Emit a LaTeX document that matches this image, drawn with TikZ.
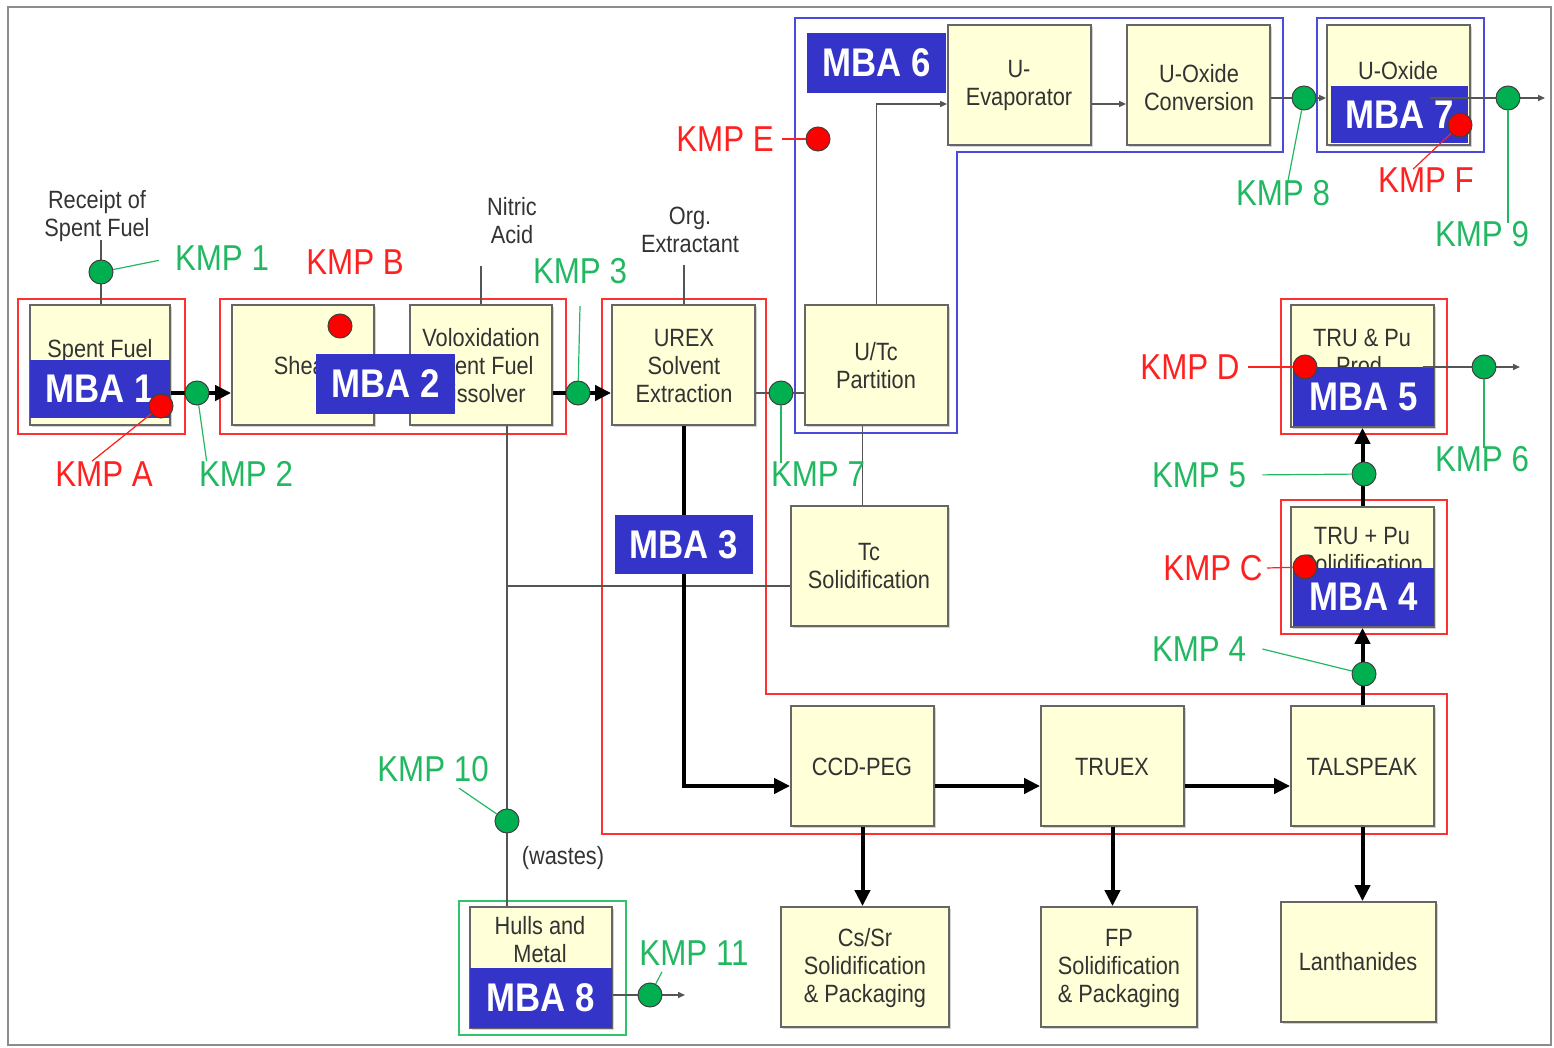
\documentclass[tikz,border=0pt]{standalone}
\usepackage{fontspec}
\setmainfont{Liberation Sans}[FakeStretch=0.87]
\usetikzlibrary{arrows.meta,fit,shadows}
\definecolor{cream}{HTML}{FFFFD8}
\definecolor{mbablue}{HTML}{3434C8}
\definecolor{frameblue}{HTML}{4B4BDB}
\definecolor{framered}{HTML}{FF3030}
\definecolor{framegreen}{HTML}{2EC46A}
\definecolor{kmpgreen}{HTML}{22B862}
\definecolor{dotgreen}{HTML}{00B050}
\definecolor{kmpred}{HTML}{FF2020}
\definecolor{dotred}{HTML}{FF0000}
\definecolor{txt}{HTML}{333333}
\definecolor{linegray}{HTML}{555555}
\begin{document}
\begin{tikzpicture}[x=0.5pt,y=-0.5pt,
  box/.style={draw=black!60, fill=cream, line width=0.9pt, inner sep=0pt,
     drop shadow={shadow xshift=1.2pt,shadow yshift=-1.2pt,opacity=0.35}},
  btxt/.style={text=txt, font=\fontsize{12.5}{14}\selectfont, align=center, inner sep=0pt},
  mba/.style={fill=mbablue, inner sep=0pt},
  mtxt/.style={text=white, inner sep=0pt, font=\fontsize{20}{20}\bfseries\selectfont},
  kg/.style={circle, draw=black!75, fill=dotgreen, minimum size=12pt, inner sep=0pt, line width=0.5pt},
  kr/.style={circle, draw=black!75, fill=dotred, minimum size=12pt, inner sep=0pt, line width=0.5pt},
  gl/.style={text=kmpgreen, font=\fontsize{18}{18}\selectfont, inner sep=2pt},
  rl/.style={text=kmpred, font=\fontsize{18}{18}\selectfont, inner sep=2pt},
  gline/.style={draw=kmpgreen, line width=0.6pt},
  rline/.style={draw=kmpred, line width=0.6pt},
  flow/.style={draw=black, line width=2pt, -{Triangle[length=8pt,width=7.5pt]}},
  thinl/.style={draw=linegray, line width=0.75pt},
  thina/.style={thinl, -{Triangle[length=3.5pt,width=3pt]}},
  redf/.style={draw=framered, line width=1.1pt},
  bluef/.style={draw=frameblue, line width=1.2pt},
  greenf/.style={draw=framegreen, line width=1.2pt}]
\useasboundingbox (0,0) rectangle (1554,1048);
\draw[black!45, line width=1pt] (8,7) rectangle (1551,1045);

% ---------- MBA frames
\draw[redf] (18,299) rectangle (185,434);
\draw[redf] (220,299) rectangle (566,434);
\draw[redf] (602,299) -- (766,299) -- (766,694) -- (1447,694) -- (1447,834) -- (602,834) -- cycle;
\draw[redf] (1281,299) rectangle (1447,434);
\draw[redf] (1281,500) rectangle (1447,634);
\draw[bluef] (795,18) -- (1283,18) -- (1283,152) -- (957,152) -- (957,433) -- (795,433) -- cycle;
\draw[bluef] (1317,18) rectangle (1484,152);
\draw[greenf] (459,901) rectangle (626,1035);

% ---------- KMP positions
\coordinate (k1) at (101,272);
\coordinate (k2) at (197,393);
\coordinate (k3) at (578,393);
\coordinate (k7) at (781,393);
\coordinate (k8) at (1304,98);
\coordinate (k9) at (1508,98);
\coordinate (k6) at (1484,367);
\coordinate (k5) at (1364,474);
\coordinate (k4) at (1364,674);
\coordinate (k10) at (507,821);
\coordinate (k11) at (650,995);
\coordinate (ka) at (161,406);
\coordinate (kb) at (340,326);
\coordinate (kc) at (1305,567);
\coordinate (kd) at (1305,367);
\coordinate (ke) at (818,139);
\coordinate (kf) at (1460,125);
\coordinate (rc) at (101,240);
\coordinate (na) at (481,266);
\coordinate (oe) at (684,265);
\coordinate (s9) at (1430,98);
\coordinate (e9) at (1545,98);
\coordinate (s6) at (1423,367);
\coordinate (e6) at (1520,367);
\coordinate (e11) at (685,995);

% ---------- process boxes
\node[box, fit={(30,305)(170,425)}] (sf) {};
\node[box, fit={(232,305)(374,425)}] (shear) {};
\node[box, fit={(410,305)(552,425)}] (volox) {};
\node[box, fit={(612,305)(755,425)}] (urex) {};
\node[box, fit={(805,305)(948,425)}] (utc) {};
\node[box, fit={(791,506)(948,626)}] (tcs) {};
\node[box, fit={(948,25)(1091,145)}] (uevap) {};
\node[box, fit={(1127,25)(1270,145)}] (uoxc) {};
\node[box, fit={(1327,25)(1470,145)}] (uox) {};
\node[box, fit={(1291,305)(1434,427)}] (trup) {};
\node[box, fit={(1291,507)(1434,627)}] (trus) {};
\node[box, fit={(791,706)(934,826)}] (ccd) {};
\node[box, fit={(1041,706)(1184,826)}] (truex) {};
\node[box, fit={(1291,706)(1434,826)}] (tals) {};
\node[box, fit={(781,907)(949,1027)}] (cssr) {};
\node[box, fit={(1041,907)(1197,1027)}] (fp) {};
\node[box, fit={(1281,902)(1436,1022)}] (lan) {};
\node[box, fit={(470,907)(612,1028)}] (hulls) {};

% box texts
\node[btxt] (tvo) at (481,366) {Voloxidation\\Spent Fuel\\Dissolver};
\node[btxt] (tur) at (684,366) {UREX\\Solvent\\Extraction};
\node[btxt] (tut) at (876,366) {U/Tc\\Partition};
\node[btxt] (ttc) at (869,566) {Tc\\Solidification};
\node[btxt] (tev) at (1019,85) {U-\\Evaporator};
\node[btxt] (toc) at (1199,88) {U-Oxide\\Conversion};
\node[btxt] (tcc) at (862,767) {CCD-PEG};
\node[btxt] (ttx) at (1112,767) {TRUEX};
\node[btxt] (tta) at (1362,767) {TALSPEAK};
\node[btxt] (tcs2) at (865,968) {Cs/Sr\\Solidification\\\& Packaging};
\node[btxt] (tfp) at (1119,968) {FP\\Solidification\\\& Packaging};
\node[btxt] (tla) at (1358,962) {Lanthanides};
% texts partly hidden by MBA labels
\node[btxt] (tsf) at (100,351) {Spent Fuel};
\node[btxt] (tsh) at (303,366) {Shear};
\node[btxt] (tuo) at (1398,71) {U-Oxide};
\node[btxt] (ttp) at (1362,352) {TRU \& Pu\\Prod.};
\node[btxt] (tts) at (1362,550) {TRU + Pu\\Solidification};
\node[btxt] (thu) at (540,940) {Hulls and\\Metal};

% free texts
\node[btxt] (rcpt) at (97,216) {Receipt of\\Spent Fuel};
\node[btxt] (nitric) at (512,221) {Nitric\\Acid};
\node[btxt] (org) at (690,230) {Org.\\Extractant};
\node[btxt] (wastes) at (563,858) {(wastes)};

% ---------- connectors
\draw[thinl] (rc) -- (rc |- sf.north);
\draw[flow] (sf.east |- k2) -- (shear.west |- k2);
\draw[flow] (volox.east |- k3) -- (urex.west |- k3);
\draw[thinl] (na) -- (na |- volox.north);
\draw[thinl] (oe) -- (oe |- urex.north);
\draw[thinl] (urex.east |- k7) -- (utc.west |- k7);
\draw[thina] (utc.north) |- (uevap.west |- 0,104);
\draw[thina] (uevap.east |- 0,104) -- (uoxc.west |- 0,104);
\draw[thina] (uoxc.east |- k8) -- (uox.west |- k8);
\draw[thinl] ([xshift=-3.5pt]tcs.north) -- ([xshift=-3.5pt]tcs.north |- utc.south);
\draw[thinl] ([yshift=-10pt]tcs.west) -- ([yshift=-10pt]tcs.west -| k10);
\draw[thinl] (volox.south -| k10) -- (hulls.north -| k10);
\draw[flow] (urex.south) |- ([yshift=-10pt]ccd.west);
\draw[flow] ([yshift=-10pt]ccd.east) -- ([yshift=-10pt]truex.west);
\draw[flow] ([yshift=-10pt]truex.east) -- ([yshift=-10pt]tals.west);
\draw[flow] (ccd.south) -- (ccd.south |- cssr.north);
\draw[flow] (truex.south) -- (truex.south |- fp.north);
\draw[flow] (tals.south) -- (tals.south |- lan.north);
\draw[flow] (tals.north) -- (trus.south);
\draw[flow] (trus.north) -- (trup.south);

% ---------- MBA labels
\node[mba, fit={(30,360)(170,418)}] (M1) {};
\node[mba, fit={(316,354)(455,414)}] (M2) {};
\node[mba, fit={(615,515)(753,574)}] (M3) {};
\node[mba, fit={(1293,568)(1434,626)}] (M4) {};
\node[mba, fit={(1293,367)(1434,426)}] (M5) {};
\node[mba, fit={(807,33)(946,93)}] (M6) {};
\node[mba, fit={(1331,86)(1468,143)}] (M7) {};
\node[mba, fit={(470,968)(612,1028)}] (M8) {};
\node[mtxt] (T1) at (M1.center) {MBA 1};
\node[mtxt] (T2) at (M2.center) {MBA 2};
\node[mtxt] (T3) at (M3.center) {MBA 3};
\node[mtxt] (T4) at (M4.center) {MBA 4};
\node[mtxt] (T5) at (M5.center) {MBA 5};
\node[mtxt] (T6) at (M6.center) {MBA 6};
\node[mtxt] (T7) at (M7.center) {MBA 7};
\node[mtxt] (T8) at (M8.center) {MBA 8};

% outgoing lines drawn over labels
\draw[thina] (s9) -- (e9);
\draw[thina] (s6) -- (e6);
\draw[thina] (hulls.east |- k11) -- (e11);

% ---------- KMP circles
\node[kg] (K1) at (k1) {};
\node[kg] (K2) at (k2) {};
\node[kg] (K3) at (k3) {};
\node[kg] (K4) at (k4) {};
\node[kg] (K5) at (k5) {};
\node[kg] (K6) at (k6) {};
\node[kg] (K7) at (k7) {};
\node[kg] (K8) at (k8) {};
\node[kg] (K9) at (k9) {};
\node[kg] (K10) at (k10) {};
\node[kg] (K11) at (k11) {};
\node[kr] (KA) at (ka) {};
\node[kr] (KB) at (kb) {};
\node[kr] (KC) at (kc) {};
\node[kr] (KD) at (kd) {};
\node[kr] (KE) at (ke) {};
\node[kr] (KF) at (kf) {};

% ---------- KMP labels
\node[gl] (L1) at (222,258) {KMP 1};
\node[gl] (L2) at (246,474) {KMP 2};
\node[gl] (L3) at (580,271) {KMP 3};
\node[gl] (L4) at (1199,649) {KMP 4};
\node[gl] (L5) at (1199,475) {KMP 5};
\node[gl] (L6) at (1482,459) {KMP 6};
\node[gl] (L7) at (818,474) {KMP 7};
\node[gl] (L8) at (1283,193) {KMP 8};
\node[gl] (L9) at (1482,234) {KMP 9};
\node[gl] (L10) at (433,769) {KMP 10};
\node[gl] (L11) at (694,953) {KMP 11};
\node[rl] (LA) at (104,474) {KMP A};
\node[rl] (LB) at (355,262) {KMP B};
\node[rl] (LC) at (1213,568) {KMP C};
\node[rl] (LD) at (1190,367) {KMP D};
\node[rl] (LE) at (725,139) {KMP E};
\node[rl] (LF) at (1426,180) {KMP F};

% ---------- leaders
\draw[gline, shorten >=6pt] (K1) -- (L1.west);
\draw[gline] (K2) -- ([xshift=6pt,yshift=-2pt]L2.north west);
\draw[gline] (K3) -- ([yshift=-9pt]L3.south);
\draw[gline] ([xshift=6pt]L4.east) -- (K4);
\draw[gline, shorten <=6pt] (L5.east) -- (K5);
\draw[gline] (K6) -- ([yshift=-3pt]K6 |- L6.north);
\draw[gline] (K7) -- ([yshift=-3pt]K7 |- L7.north);
\draw[gline] (K8) -- ([xshift=2pt,yshift=-5pt]L8.north);
\draw[gline] (K9) -- ([yshift=-3pt]K9 |- L9.north);
\draw[gline] ([xshift=13pt,yshift=-1pt]L10.south) -- (K10);
\draw[gline] (K11) -- ([xshift=-16pt,yshift=-1pt]L11.south);
\draw[rline] (KA) -- ([xshift=-6pt,yshift=-2pt]LA.north);
\draw[rline] (LC.east) -- (KC);
\draw[rline, shorten <=2pt] (LD.east) -- (KD);
\draw[rline, shorten <=2pt] (LE.east) -- (KE);
\draw[rline] ([xshift=-6.5pt,yshift=-3pt]LF.north) -- (KF);
\end{tikzpicture}
\end{document}
